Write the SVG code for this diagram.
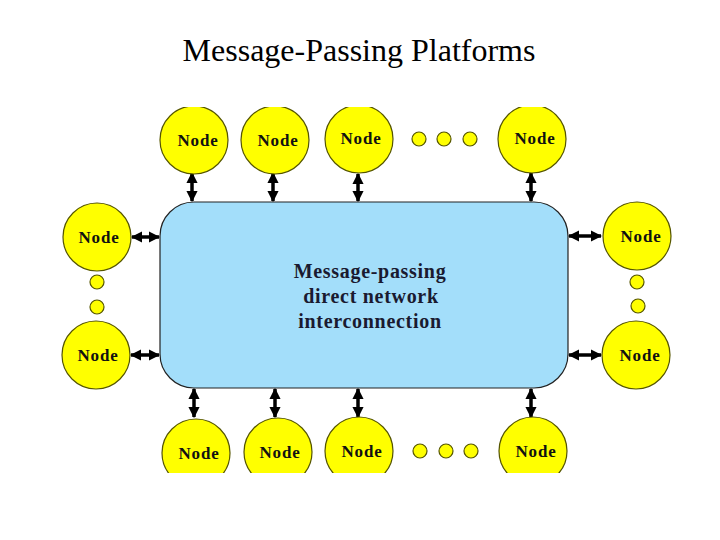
<svg xmlns="http://www.w3.org/2000/svg" width="720" height="540" viewBox="0 0 720 540">
<style>
.node{fill:#ffff00;stroke:#555500;stroke-width:1.2}
.dot{fill:#ffff00;stroke:#555500;stroke-width:1.2}
.lbl{font-family:"Liberation Serif",serif;font-weight:bold;font-size:17px;letter-spacing:0.8px;fill:#111;text-anchor:middle}
.ctr{font-family:"Liberation Serif",serif;font-weight:bold;font-size:20px;letter-spacing:0.7px;fill:#1a1a30;text-anchor:middle}
.arr{stroke:#000;stroke-width:3.5;fill:none;marker-start:url(#ah);marker-end:url(#ah)}
</style>
<defs>
<marker id="ah" viewBox="0 0 10 10" refX="9" refY="5" markerWidth="3.2" markerHeight="3.2" orient="auto-start-reverse" markerUnits="strokeWidth">
<path d="M0,0 L10,5 L0,10 z" fill="#000"/>
</marker>
<clipPath id="clip"><rect x="0" y="107" width="720" height="366"/></clipPath>
</defs>
<rect width="720" height="540" fill="#fff"/>
<text x="359" y="61" font-family="'Liberation Serif',serif" font-size="32" text-anchor="middle" fill="#000">Message-Passing Platforms</text>
<g id="network">
<rect x="160" y="202" width="408" height="186" rx="34" ry="34" fill="#a3defa" stroke="#222" stroke-width="1.2"/>
<text class="ctr" x="370" y="278">Message-passing</text>
<text class="ctr" x="371" y="303">direct network</text>
<text class="ctr" x="370" y="328">interconnection</text>
</g>
<g id="connectors">
<line class="arr" x1="192" y1="173" x2="192" y2="201"/>
<line class="arr" x1="273" y1="173" x2="273" y2="201"/>
<line class="arr" x1="358" y1="174" x2="358" y2="201"/>
<line class="arr" x1="531" y1="173" x2="531" y2="201"/>
<line class="arr" x1="194" y1="389" x2="194" y2="417"/>
<line class="arr" x1="275" y1="389" x2="275" y2="417"/>
<line class="arr" x1="358" y1="389" x2="358" y2="417"/>
<line class="arr" x1="531" y1="389" x2="531" y2="417"/>
<line class="arr" x1="132" y1="237" x2="159" y2="237"/>
<line class="arr" x1="131" y1="355" x2="159" y2="355"/>
<line class="arr" x1="569" y1="236" x2="601" y2="236"/>
<line class="arr" x1="569" y1="355" x2="601" y2="355"/>
</g>
<g clip-path="url(#clip)">
<g id="n-top1"><circle class="node" cx="194" cy="140" r="34"/><text class="lbl" x="198" y="146">Node</text></g>
<g id="n-top2"><circle class="node" cx="275" cy="140" r="34"/><text class="lbl" x="278" y="146">Node</text></g>
<g id="n-top3"><circle class="node" cx="359" cy="139" r="34"/><text class="lbl" x="361" y="144">Node</text></g>
<g id="n-top4"><circle class="node" cx="532" cy="139" r="34"/><text class="lbl" x="535" y="144">Node</text></g>
<g id="n-bot1"><circle class="node" cx="196" cy="453" r="34"/><text class="lbl" x="199" y="459">Node</text></g>
<g id="n-bot2"><circle class="node" cx="278" cy="452" r="34"/><text class="lbl" x="280" y="458">Node</text></g>
<g id="n-bot3"><circle class="node" cx="359" cy="451" r="34"/><text class="lbl" x="362" y="457">Node</text></g>
<g id="n-bot4"><circle class="node" cx="533" cy="451" r="34"/><text class="lbl" x="536" y="457">Node</text></g>
</g>
<g id="n-left1"><circle class="node" cx="97" cy="237" r="34"/><text class="lbl" x="99" y="243">Node</text></g>
<g id="n-left2"><circle class="node" cx="96" cy="355" r="34"/><text class="lbl" x="98" y="361">Node</text></g>
<g id="n-right1"><circle class="node" cx="637" cy="236" r="34"/><text class="lbl" x="641" y="242">Node</text></g>
<g id="n-right2"><circle class="node" cx="636" cy="355" r="34"/><text class="lbl" x="640" y="361">Node</text></g>
<g id="dots">
<circle class="dot" cx="419" cy="139" r="7"/>
<circle class="dot" cx="444" cy="139" r="7"/>
<circle class="dot" cx="470" cy="139" r="7"/>
<circle class="dot" cx="420" cy="451" r="7"/>
<circle class="dot" cx="446" cy="451" r="7"/>
<circle class="dot" cx="471" cy="451" r="7"/>
<circle class="dot" cx="97" cy="282" r="7"/>
<circle class="dot" cx="97" cy="307" r="7"/>
<circle class="dot" cx="637" cy="282" r="7"/>
<circle class="dot" cx="638" cy="306" r="7"/>
</g>
</svg>
